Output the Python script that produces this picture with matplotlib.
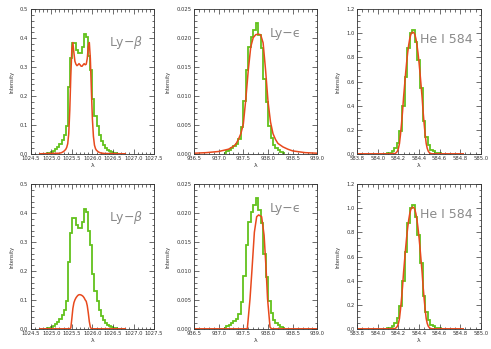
import numpy as np
import matplotlib
matplotlib.use("Agg")
import matplotlib.pyplot as plt
from matplotlib.ticker import MultipleLocator

# ---------------- data ----------------
# Ly-beta observed histogram (bins of 0.05 A starting at 1024.80)
lyb_bin_start = 1024.80
lyb_bin_width = 0.05
lyb_obs = [0.000, 0.001, 0.002, 0.004, 0.006, 0.010, 0.016, 0.025, 0.035, 0.048,
           0.065, 0.095, 0.230, 0.330, 0.385, 0.385, 0.360, 0.350, 0.350, 0.370,
           0.415, 0.405, 0.340, 0.290, 0.190, 0.130, 0.095, 0.065, 0.045, 0.030,
           0.020, 0.013, 0.008, 0.005, 0.003, 0.002, 0.001, 0.0005, 0.0, 0.0]

# Ly-beta model (top row)
lyb_mod_top_x = [1024.72, 1025.20, 1025.25, 1025.30, 1025.35, 1025.375, 1025.40, 1025.425,
                 1025.45, 1025.475, 1025.50, 1025.525, 1025.55, 1025.575, 1025.60, 1025.625,
                 1025.65, 1025.675, 1025.70, 1025.725, 1025.75, 1025.775, 1025.80, 1025.825,
                 1025.85, 1025.875, 1025.90, 1025.925, 1025.95, 1025.975, 1026.00, 1026.025,
                 1026.05, 1026.075, 1026.10, 1026.15, 1026.20, 1026.30, 1026.80]
lyb_mod_top_y = [0.0, 0.002, 0.004, 0.008, 0.015, 0.022, 0.035, 0.070,
                 0.150, 0.270, 0.360, 0.385, 0.350, 0.320, 0.310, 0.305,
                 0.308, 0.312, 0.308, 0.303, 0.303, 0.308, 0.312, 0.308,
                 0.310, 0.330, 0.370, 0.385, 0.330, 0.220, 0.120, 0.060,
                 0.030, 0.018, 0.012, 0.006, 0.003, 0.001, 0.0]

# Ly-beta model (bottom row)
lyb_mod_bot_x = [1024.72, 1025.45, 1025.475, 1025.50, 1025.525, 1025.55, 1025.575, 1025.60,
                 1025.625, 1025.65, 1025.675, 1025.70, 1025.725, 1025.75, 1025.775, 1025.80,
                 1025.825, 1025.85, 1025.875, 1025.90, 1025.925, 1025.95, 1025.975, 1026.80]
lyb_mod_bot_y = [0.0, 0.0, 0.003, 0.035, 0.070, 0.090, 0.100, 0.107,
                 0.112, 0.116, 0.118, 0.118, 0.117, 0.115, 0.112, 0.107,
                 0.100, 0.095, 0.080, 0.055, 0.025, 0.006, 0.0, 0.0]

# Ly-epsilon observed histogram (bins of 0.05 A starting at 937.10)
lye_bin_start = 937.10
lye_bin_width = 0.05
lye_obs = [0.0002, 0.0004, 0.0007, 0.0010, 0.0013, 0.0017, 0.0026, 0.0047, 0.0092, 0.0145,
           0.0185, 0.0202, 0.0215, 0.0226, 0.0205, 0.0183, 0.0130, 0.0090, 0.0048, 0.0027,
           0.0016, 0.0010, 0.0006, 0.0003, 0.0001]

# Ly-epsilon model (top row)
lye_mod_top_x = [936.50, 936.75, 937.00, 937.10, 937.20, 937.30, 937.35, 937.40, 937.45,
                 937.50, 937.55, 937.60, 937.65, 937.70, 937.75, 937.80, 937.85, 937.90,
                 937.95, 938.00, 938.05, 938.10, 938.15, 938.20, 938.30, 938.40, 938.50,
                 938.75, 939.00]
lye_mod_top_y = [0.0001, 0.0002, 0.0004, 0.0006, 0.0008, 0.0013, 0.0017, 0.0025, 0.0035,
                 0.0052, 0.0095, 0.0145, 0.0185, 0.0201, 0.0206, 0.0207, 0.0206, 0.0192,
                 0.0145, 0.0090, 0.0055, 0.0035, 0.0025, 0.0018, 0.0012, 0.0008, 0.0005,
                 0.0002, 0.0001]

# Ly-epsilon model (bottom row)
lye_mod_bot_x = [936.50, 937.55, 937.58, 937.635, 937.676, 937.723, 937.77, 937.81,
                 937.87, 937.92, 937.96, 937.99, 938.04, 938.07, 939.00]
lye_mod_bot_y = [0.0, 0.0, 0.0, 0.0052, 0.0104, 0.0167, 0.0194, 0.0197,
                 0.0194, 0.0162, 0.0104, 0.0052, 0.0003, 0.0, 0.0]

# He I 584 observed histogram (bins of 0.025 A starting at 584.06)
he_bin_start = 584.06
he_bin_width = 0.025
he_obs = [0.002, 0.005, 0.010, 0.020, 0.045, 0.090, 0.190, 0.400, 0.640, 0.880,
          1.000, 1.030, 0.930, 0.780, 0.550, 0.270, 0.140, 0.070, 0.035, 0.020,
          0.010, 0.005, 0.002]

# He I 584 model
he_mod_x = [583.80, 584.14, 584.15, 584.16, 584.17, 584.18, 584.19, 584.20, 584.21,
            584.22, 584.23, 584.24, 584.25, 584.26, 584.27, 584.28, 584.29, 584.30,
            584.31, 584.32, 584.33, 584.34, 584.35, 584.36, 584.37, 584.38, 584.39,
            584.40, 584.41, 584.42, 584.43, 584.44, 584.45, 584.46, 584.47, 584.48,
            584.49, 584.50, 584.51, 584.52, 584.53, 584.54, 584.83]
he_mod_y = [0.0, 0.0, 0.0, 0.001, 0.004, 0.010, 0.022, 0.045, 0.085,
            0.160, 0.250, 0.350, 0.470, 0.570, 0.670, 0.760, 0.840, 0.905,
            0.955, 0.990, 1.005, 1.010, 1.005, 0.990, 0.955, 0.905, 0.840,
            0.760, 0.670, 0.570, 0.470, 0.350, 0.250, 0.160, 0.085, 0.045,
            0.022, 0.010, 0.004, 0.001, 0.0, 0.0, 0.0]

labels = [r"Ly$-\beta$", "Ly\u2212\u03f5", "He I 584"]

# ---------------- style ----------------
GREEN = "#62c21c"
RED = "#e8491d"
LABEL_GRAY = "#8a8a8a"

fig = plt.figure(figsize=(4.91, 3.49), dpi=100)

W, H = 491.0, 349.0
lefts = [30.7, 194.0, 357.3]
axw = 123.4
tops = [9.3, 184.3]
axh = 144.5

panel_cfg = [
    dict(xlim=(1024.5, 1027.5), ylim=(0, 0.5), xmaj=0.5, xmin=0.1, ymaj=0.1, ymin=0.02,
         xfmt="%.1f", yfmt="%.1f", label_pos=(1026.40, 0.385)),
    dict(xlim=(936.5, 939.0), ylim=(0, 0.025), xmaj=0.5, xmin=0.1, ymaj=0.005, ymin=0.001,
         xfmt="%.1f", yfmt="%.3f", label_pos=(938.03, 0.0208)),
    dict(xlim=(583.8, 585.0), ylim=(0, 1.2), xmaj=0.2, xmin=0.05, ymaj=0.2, ymin=0.05,
         xfmt="%.1f", yfmt="%.1f", label_pos=(584.405, 0.95)),
]

obs_data = [
    (lyb_bin_start, lyb_bin_width, lyb_obs),
    (lye_bin_start, lye_bin_width, lye_obs),
    (he_bin_start, he_bin_width, he_obs),
]
mod_data = [
    [(lyb_mod_top_x, lyb_mod_top_y), (lye_mod_top_x, lye_mod_top_y), (he_mod_x, he_mod_y)],
    [(lyb_mod_bot_x, lyb_mod_bot_y), (lye_mod_bot_x, lye_mod_bot_y), (he_mod_x, he_mod_y)],
]

from matplotlib.ticker import FormatStrFormatter

for r in range(2):
    for c in range(3):
        cfg = panel_cfg[c]
        ax = fig.add_axes([lefts[c] / W, 1 - (tops[r] + axh) / H, axw / W, axh / H])
        start, width, vals = obs_data[c]
        edges = start + width * np.arange(len(vals) + 1)
        ax.stairs(vals, edges, color=GREEN, lw=1.3, baseline=None)
        mx, my = mod_data[r][c]
        ax.plot(mx, my, color=RED, lw=1.1)
        ax.set_xlim(*cfg["xlim"])
        ax.set_ylim(*cfg["ylim"])
        ax.xaxis.set_major_locator(MultipleLocator(cfg["xmaj"]))
        ax.xaxis.set_minor_locator(MultipleLocator(cfg["xmin"]))
        ax.yaxis.set_major_locator(MultipleLocator(cfg["ymaj"]))
        ax.yaxis.set_minor_locator(MultipleLocator(cfg["ymin"]))
        ax.xaxis.set_major_formatter(FormatStrFormatter(cfg["xfmt"]))
        ax.yaxis.set_major_formatter(FormatStrFormatter(cfg["yfmt"]))
        ax.tick_params(which="both", direction="in", top=True, right=True,
                       width=0.5, labelsize=3.8, pad=1.8, colors="#333333")
        ax.tick_params(which="major", length=3.5)
        ax.tick_params(which="minor", length=1.8)
        for s in ax.spines.values():
            s.set_linewidth(0.6)
            s.set_color("#333333")
        ax.set_ylabel("Intensity", fontsize=3.6, labelpad=4, color="#333333")
        ax.set_xlabel("\u03bb", fontsize=4.5, labelpad=1.5, color="#333333")
        ax.text(cfg["label_pos"][0], cfg["label_pos"][1], labels[c], fontsize=9,
                color=LABEL_GRAY, va="center", ha="left")

fig.savefig("out.png", dpi=100)
